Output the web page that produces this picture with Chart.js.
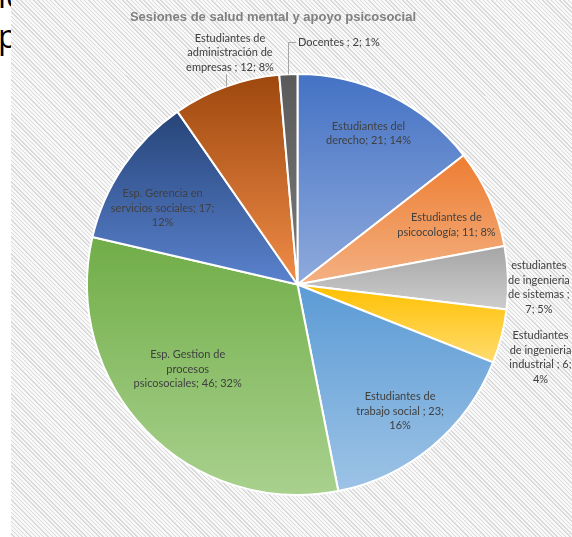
<!DOCTYPE html>
<html>
<head>
<meta charset="utf-8">
<title>Sesiones de salud mental y apoyo psicosocial</title>
<script src="https://cdn.jsdelivr.net/npm/chart.js@4.4.0/dist/chart.umd.min.js"></script>
<style>
  html, body { margin: 0; padding: 0; background: #fff; }
  body { width: 572px; height: 537px; position: relative; overflow: hidden; }
  .doc { position: absolute; left: -2px; top: -24px; font: 32px/40px 'Open Sans', sans-serif; color: #000; }
  .panel {
    position: absolute; left: 11px; top: 0; width: 561px; height: 537px;
    background: repeating-linear-gradient(45deg, #f8f8f8 0 2px, #dadada 2px 3px);
  }
  .title {
    position: absolute; left: 0; top: 9px; width: 546px; text-align: center;
    font: bold 13px 'Liberation Sans', Arial, sans-serif; color: #808080;
  }
  canvas { position: absolute; left: 0; top: 0; }
</style>
</head>
<body>
<div class="doc">ic<br>p</div>
<div class="panel">
  <canvas id="pieChart" width="561" height="537"></canvas>
</div>
<div class="title">Sesiones de salud mental y apoyo psicosocial</div>

<script>
// Sessions per group, clockwise from 12 o'clock
const categories = [
    'Estudiantes del derecho',
    'Estudiantes de psicocología',
    'estudiantes de ingenieria de sistemas ',
    'Estudiantes de ingenieria industrial ',
    'Estudiantes de trabajo social ',
    'Esp. Gestion de procesos psicosociales',
    'Esp. Gerencia en servicios sociales',
    'Estudiantes de administración de empresas ',
    'Docentes '
];
const sessions = [21, 11, 7, 6, 23, 46, 17, 12, 2];

// Slice fill: darker at the top of each slice, lighter at the bottom
const topColors = ['#4472C4', '#ED7D31', '#A5A5A5', '#FFC000', '#5B9BD5', '#70AD47', '#264478', '#9E480E', '#5A5A5A'];
const bottomColors = ['#8FAADC', '#F4B183', '#CDCDCD', '#FFDB6E', '#9DC3E6', '#A9D18E', '#5A82CE', '#F08C48', '#7A7A7A'];

// Where each data label goes (in = inside slice, out = right of pie, lead = with leader line)
const labelPlacement = [
    { mode: 'in', f: 0.80, dx: -3, dy: 0, w: 90 },
    { mode: 'in', f: 0.76, dx: 3, dy: 6, w: 100 },
    { mode: 'out', dx: 31, dy: 10, w: 66 },
    { mode: 'out', dx: 39, dy: 21, w: 66 },
    { mode: 'in', f: 0.77, dx: -1, dy: 2, w: 92 },
    { mode: 'in', f: 0.66, dx: -10, dy: -12, w: 110 },
    { mode: 'in', f: 0.74, dx: -6, dy: 11, w: 106 },
    { mode: 'lead', dx: 4, dy: -34, w: 88 },
    { mode: 'leadLeft', dy: -32, w: 200 }
];

const total = sessions.reduce((a, b) => a + b, 0);

function labelText(i) {
    const pct = Math.round(sessions[i] / total * 100);
    return `${categories[i]}; ${sessions[i]}; ${pct}%`;
}

function wrapText(ctx, text, maxWidth) {
    const words = text.split(' ').filter(w => w.length);
    const lines = [];
    let line = '';
    words.forEach(word => {
        const test = line ? line + ' ' + word : word;
        if (line && ctx.measureText(test).width > maxWidth) {
            lines.push(line);
            line = word;
        } else {
            line = test;
        }
    });
    if (line) lines.push(line);
    return lines;
}

const sliceShading = {
    id: 'sliceShading',
    beforeDatasetsDraw(chart) {
        const ctx = chart.ctx;
        chart.getDatasetMeta(0).data.forEach((arc, i) => {
            const p = arc.getProps(['x', 'y', 'startAngle', 'endAngle', 'outerRadius']);
            const ys = [p.y,
                p.y + p.outerRadius * Math.sin(p.startAngle),
                p.y + p.outerRadius * Math.sin(p.endAngle)];
            [-Math.PI / 2, Math.PI / 2, 3 * Math.PI / 2].forEach(a => {
                if (a > p.startAngle && a < p.endAngle) ys.push(p.y + p.outerRadius * Math.sin(a));
            });
            const g = ctx.createLinearGradient(0, Math.min(...ys), 0, Math.max(...ys));
            g.addColorStop(0, topColors[i]);
            g.addColorStop(1, bottomColors[i]);
            arc.options = Object.assign({}, arc.options, { backgroundColor: g });
        });
    }
};

const sliceLabels = {
    id: 'sliceLabels',
    afterDatasetsDraw(chart) {
        const ctx = chart.ctx;
        const lineHeight = 14.5;
        ctx.save();
        ctx.font = '11px Lato, sans-serif';
        ctx.fillStyle = '#404040';
        ctx.textBaseline = 'middle';
        chart.getDatasetMeta(0).data.forEach((arc, i) => {
            const p = arc.getProps(['x', 'y', 'startAngle', 'endAngle', 'outerRadius']);
            const mid = (p.startAngle + p.endAngle) / 2;
            const place = labelPlacement[i];
            const lines = wrapText(ctx, labelText(i), place.w);
            const edgeX = p.x + p.outerRadius * Math.cos(mid);
            const edgeY = p.y + p.outerRadius * Math.sin(mid);
            let cx, cy;
            if (place.mode === 'in') {
                cx = p.x + p.outerRadius * place.f * Math.cos(mid) + place.dx;
                cy = p.y + p.outerRadius * place.f * Math.sin(mid) + place.dy;
            } else if (place.mode === 'out') {
                cx = edgeX + place.dx;
                cy = edgeY + place.dy;
            } else if (place.mode === 'lead') {
                cx = edgeX + place.dx;
                cy = edgeY + place.dy;
                const bottom = cy + lines.length * lineHeight / 2;
                ctx.strokeStyle = '#A6A6A6';
                ctx.lineWidth = 1;
                ctx.beginPath();
                ctx.moveTo(Math.round(edgeX) + 0.5, edgeY);
                ctx.lineTo(Math.round(edgeX) + 0.5, bottom);
                ctx.stroke();
            } else {
                const ly = Math.round(edgeY + place.dy) + 0.5;
                ctx.strokeStyle = '#A6A6A6';
                ctx.lineWidth = 1;
                ctx.beginPath();
                ctx.moveTo(Math.round(edgeX) + 0.5, edgeY);
                ctx.lineTo(Math.round(edgeX) + 0.5, ly);
                ctx.lineTo(Math.round(edgeX) + 8, ly);
                ctx.stroke();
                ctx.textAlign = 'left';
                ctx.fillText(lines.join(' '), Math.round(edgeX) + 10, ly);
                return;
            }
            ctx.textAlign = 'center';
            const y0 = cy - (lines.length - 1) * lineHeight / 2;
            lines.forEach((ln, k) => ctx.fillText(ln, cx, y0 + k * lineHeight));
        });
        ctx.restore();
    }
};

new Chart(document.getElementById('pieChart'), {
    type: 'pie',
    data: {
        labels: categories,
        datasets: [{
            data: sessions,
            backgroundColor: topColors.slice(),
            borderColor: '#ffffff',
            borderWidth: 2
        }]
    },
    options: {
        responsive: false,
        animation: false,
        layout: { padding: { left: 75, top: 73, right: 63, bottom: 41 } },
        plugins: {
            legend: { display: false },
            title: { display: false },
            tooltip: { enabled: false }
        }
    },
    plugins: [sliceShading, sliceLabels]
});
</script>
</body>
</html>
